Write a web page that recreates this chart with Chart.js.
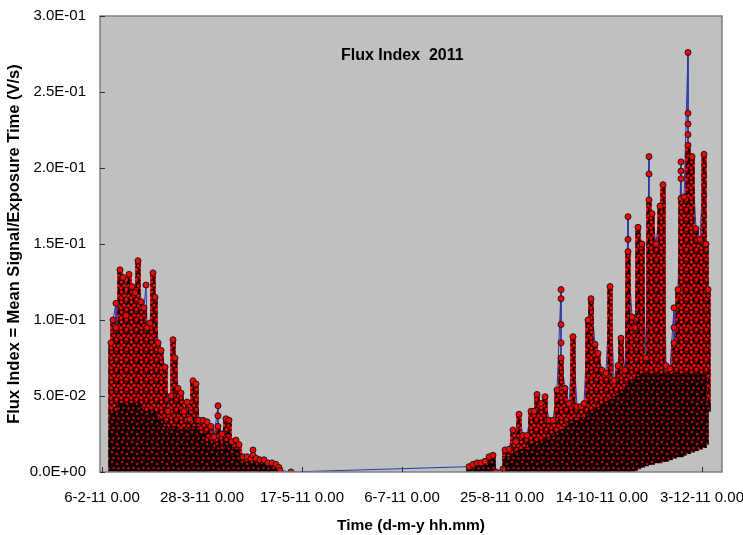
<!DOCTYPE html>
<html>
<head>
<meta charset="utf-8">
<title>Flux Index 2011</title>
<script src="https://cdn.jsdelivr.net/npm/chart.js@4.4.1/dist/chart.umd.min.js"></script>
<style>
  body { margin: 0; background: #fff; }
  #wrap { width: 743px; height: 535px; }
</style>
</head>
<body>
<div id="wrap"><canvas id="fluxChart" width="743" height="535"></canvas></div>
<script>
// ==================== DATA ====================
// x = days after 6-2-11 0.00, y = flux index (V/s)
// each column groups the readings of about one/two days: lowest, top of the dense band, highest
const colDay = [
    4.5, 5.5, 7, 9, 10.5, 12, 13.5, 15, 16.5, 18,
    19.5, 21, 22.5, 24, 25.5, 26.5, 28, 29.5, 31.5, 33,
    34.5, 35.5, 36.5, 38, 39.5, 41, 42.5, 44, 45.5, 47,
    48.5, 50.5, 52.5, 54.5, 56, 58, 60, 62, 63.5, 65,
    67, 68.5, 70.5, 72.5, 74.5, 77, 79, 81, 83, 85,
    87, 88.5,
    183.5, 185.5, 187.5, 189.5, 191.5, 193.5, 195.5, 201.5, 203.5, 205.5,
    207, 208.5, 210.5, 212.5, 214.5, 216, 217.5, 219.5, 221.5, 223.5,
    225.5, 227.5, 229.5, 231.5, 233.5, 235.5, 237.5, 239.5, 241, 243,
    244.5, 246.5, 248, 250, 252, 254, 256, 258, 259.5, 261.5,
    263, 265, 266.5, 268, 270, 272, 273.5, 275, 277, 279,
    280.5, 282, 284, 286, 288, 289.5, 291, 293, 295, 297,
    299, 301, 302, 303
];
const colLow = [
    0, 0, 0, 0, 0, 0, 0, 0, 0, 0,
    0, 0, 0, 0, 0, 0, 0, 0, 0, 0,
    0, 0, 0, 0, 0, 0, 0, 0, 0, 0,
    0, 0, 0, 0, 0, 0, 0, 0, 0, 0,
    0, 0, 0, 0, 0, 0, 0, 0, 0, 0,
    0, 0,
    0, 0, 0, 0, 0, 0, 0, 0, 0, 0,
    0, 0, 0, 0, 0, 0, 0, 0, 0, 0,
    0, 0, 0, 0, 0, 0, 0, 0, 0, 0,
    0, 0, 0, 0, 0, 0, 0, 0, 0, 0,
    0, 0, 0.001, 0.002, 0.003, 0.004, 0.005, 0.005, 0.006, 0.006,
    0.007, 0.007, 0.008, 0.009, 0.010, 0.010, 0.011, 0.012, 0.013, 0.014,
    0.015, 0.016, 0.018, 0.040
];
const colDense = [
    0.030, 0.040, 0.040, 0.045, 0.045, 0.045, 0.045, 0.045, 0.045, 0.045,
    0.042, 0.040, 0.040, 0.040, 0.040, 0.038, 0.035, 0.035, 0.030, 0.025,
    0.025, 0.030, 0.030, 0.028, 0.028, 0.025, 0.028, 0.025, 0.030, 0.030,
    0.025, 0.025, 0.020, 0.020, 0.015, 0.020, 0.015, 0.020, 0.020, 0.012,
    0.015, 0.012, 0.006, 0.006, 0.006, 0.006, 0.005, 0.005, 0.004, 0.004,
    0.003, 0.002,
    0.002, 0.003, 0.004, 0.004, 0.005, 0.007, 0.008, 0.010, 0.010, 0.012,
    0.012, 0.014, 0.015, 0.015, 0.018, 0.018, 0.020, 0.020, 0.022, 0.022,
    0.024, 0.026, 0.028, 0.030, 0.032, 0.034, 0.034, 0.036, 0.036, 0.038,
    0.040, 0.040, 0.042, 0.044, 0.046, 0.048, 0.050, 0.052, 0.054, 0.056,
    0.058, 0.060, 0.062, 0.063, 0.064, 0.064, 0.064, 0.064, 0.064, 0.064,
    0.064, 0.064, 0.064, 0.064, 0.064, 0.064, 0.064, 0.064, 0.064, 0.064,
    0.064, 0.064, 0.045, 0.045
];
const colTop = [
    0.085, 0.100, 0.095, 0.133, 0.128, 0.103, 0.130, 0.122, 0.118, 0.139,
    0.112, 0.108, 0.095, 0.098, 0.131, 0.115, 0.085, 0.080, 0.069, 0.040,
    0.050, 0.087, 0.075, 0.055, 0.052, 0.040, 0.046, 0.035, 0.060, 0.058,
    0.034, 0.034, 0.033, 0.030, 0.023, 0.030, 0.025, 0.035, 0.034, 0.020,
    0.021, 0.018, 0.010, 0.010, 0.009, 0.009, 0.008, 0.008, 0.006, 0.006,
    0.005, 0.003,
    0.0035, 0.005, 0.006, 0.006, 0.007, 0.010, 0.011, 0.0145, 0.015, 0.0276,
    0.020, 0.038, 0.024, 0.024, 0.040, 0.040, 0.051, 0.045, 0.0495, 0.034,
    0.034, 0.054, 0.075, 0.055, 0.045, 0.089, 0.043, 0.043, 0.045, 0.100,
    0.114, 0.084, 0.078, 0.067, 0.065, 0.122, 0.060, 0.070, 0.088, 0.067,
    0.145, 0.102, 0.095, 0.161, 0.150, 0.075, 0.179, 0.170, 0.150, 0.175,
    0.189, 0.070, 0.068, 0.085, 0.120, 0.180, 0.181, 0.215, 0.2075, 0.160,
    0.153, 0.209, 0.150, 0.120
];
// readings standing apart from the columns (spikes and lone low readings)
const extraDay = [7, 22, 58, 58, 75.5, 75.5, 89, 94.5, 197, 200.5,
    229.5, 229.5, 229.5, 229.5, 263, 263, 273.5, 273.5, 286, 286,
    289.5, 289.5, 289.5, 293, 293, 293, 293];
const extraVal = [0.111, 0.123, 0.0436, 0.037, 0.0145, 0.011, 0.001, 0.000, 0.000, 0.002,
    0.120, 0.114, 0.097, 0.085, 0.168, 0.153, 0.2075, 0.196, 0.108, 0.095,
    0.204, 0.198, 0.193, 0.276, 0.236, 0.229, 0.222];

// ==================== AXES ====================
const xTickDays = [0, 50, 100, 150, 200, 250, 300];
const xTickLabels = ['6-2-11 0.00', '28-3-11 0.00', '17-5-11 0.00', '6-7-11 0.00',
    '25-8-11 0.00', '14-10-11 0.00', '3-12-11 0.00'];
const yTickLabels = ['0.0E+00', '5.0E-02', '1.0E-01', '1.5E-01', '2.0E-01', '2.5E-01', '3.0E-01'];

const FONT = "'Liberation Sans', Arial, sans-serif";

// ==================== UTILITIES ====================
// tile of overlapping marker dots, used to fill the dense columns
function makePattern(bg, dot, edge, radius, spots, size) {
    const c = document.createElement('canvas');
    c.width = size; c.height = size;
    const g = c.getContext('2d');
    g.fillStyle = bg;
    g.fillRect(0, 0, size, size);
    g.fillStyle = dot;
    g.strokeStyle = edge;
    g.lineWidth = 0.8;
    spots.forEach(([sx, sy]) => {
        [-size, 0, size].forEach(ox => [-size, 0, size].forEach(oy => {
            g.beginPath();
            g.arc(sx + ox, sy + oy, radius, 0, Math.PI * 2);
            g.fill();
            if (edge) g.stroke();
        }));
    });
    return g.createPattern(c, 'repeat');
}

function buildReadings() {
    const list = [];
    extraDay.forEach((d, i) => list.push({ x: d, y: extraVal[i], k: 0, n: i }));
    colDay.forEach((d, i) => list.push({ x: d, y: colTop[i], k: 1, n: i }));
    list.sort((a, b) => a.x - b.x || a.k - b.k || a.n - b.n);
    return list.map(p => ({ x: p.x, y: p.y }));
}

// marco del grafico: fondo gris, borde, marcas hacia dentro y titulo
const plotFrame = {
    id: 'plotFrame',
    beforeDraw(chart) {
        const { ctx, chartArea: a } = chart;
        ctx.save();
        ctx.fillStyle = '#c0c0c0';
        ctx.fillRect(a.left, a.top, a.right - a.left, a.bottom - a.top);
        ctx.restore();
    },
    afterDraw(chart) {
        const { ctx, chartArea: a, scales } = chart;
        ctx.save();
        ctx.strokeStyle = '#808080';
        ctx.lineWidth = 1.5;
        ctx.strokeRect(a.left, a.top, a.right - a.left, a.bottom - a.top);
        ctx.strokeStyle = '#303030';
        ctx.lineWidth = 1;
        ctx.beginPath();
        scales.y.ticks.forEach(t => {
            const y = Math.round(scales.y.getPixelForValue(t.value)) + 0.5;
            ctx.moveTo(a.left, y); ctx.lineTo(a.left + 5, y);
        });
        scales.x.ticks.forEach(t => {
            const x = Math.round(scales.x.getPixelForValue(t.value)) + 0.5;
            ctx.moveTo(x, a.bottom); ctx.lineTo(x, a.bottom - 5);
        });
        ctx.stroke();
        ctx.fillStyle = '#000';
        ctx.font = 'bold 16px ' + FONT;
        ctx.textAlign = 'center';
        ctx.textBaseline = 'middle';
        ctx.fillText('Flux Index  2011', a.left + (a.right - a.left) * 0.486, a.top + 40);
        ctx.restore();
    }
};

// ==================== CHART ====================
const ctx = document.getElementById('fluxChart').getContext('2d');
const upperPattern = makePattern('#100000', '#ff0000', '#000000', 2.2,
    [[1.5, 2], [6, 1], [4, 5.5], [8.5, 6], [1, 8], [6.5, 9.5]], 10);
const densePattern = makePattern('#000000', '#e00000', null, 1.2,
    [[2, 2], [7, 4], [3.5, 8], [8.5, 8.5]], 10);
const readings = buildReadings();

new Chart(ctx, {
    type: 'bar',
    data: {
        datasets: [
            {
                type: 'line',
                data: readings,
                borderColor: '#2b36a8',
                borderWidth: 1,
                pointRadius: 0,
                order: 4
            },
            {
                data: colDay.map((d, i) => ({ x: d, y: [colDense[i], colTop[i]] })),
                backgroundColor: upperPattern,
                borderWidth: 0,
                barThickness: 5,
                grouped: false,
                order: 3
            },
            {
                data: colDay.map((d, i) => ({ x: d, y: [colLow[i], colDense[i]] })),
                backgroundColor: densePattern,
                borderWidth: 0,
                barThickness: 5,
                grouped: false,
                order: 2
            },
            {
                type: 'line',
                data: readings,
                showLine: false,
                pointRadius: 3,
                pointBackgroundColor: '#ff0000',
                pointBorderColor: '#1a1a1a',
                pointBorderWidth: 1,
                order: 1
            }
        ]
    },
    options: {
        responsive: false,
        animation: false,
        events: [],
        layout: { padding: { top: 16, right: 21, left: 0, bottom: 0 } },
        plugins: { legend: { display: false }, tooltip: { enabled: false } },
        scales: {
            x: {
                type: 'linear',
                min: -1,
                max: 310,
                offset: false,
                grid: { display: false, drawTicks: false },
                border: { display: false },
                afterBuildTicks: scale => { scale.ticks = xTickDays.map(v => ({ value: v })); },
                afterFit: scale => {
                    scale.height = 63;
                    scale.paddingLeft = 0;
                    scale.paddingRight = 0;
                },
                ticks: {
                    autoSkip: false,
                    maxRotation: 0,
                    padding: 17,
                    color: '#000',
                    font: { family: FONT, size: 15 },
                    callback: v => xTickLabels[xTickDays.indexOf(v)]
                },
                title: {
                    display: true,
                    text: 'Time (d-m-y hh.mm)',
                    color: '#000',
                    font: { family: FONT, size: 15.5, weight: 'bold' },
                    padding: { top: 0, bottom: 0 }
                }
            },
            y: {
                min: 0,
                max: 0.3,
                grid: { display: false, drawTicks: false },
                border: { display: false },
                afterFit: scale => {
                    scale.width = 100;
                    scale.paddingTop = 0;
                    scale.paddingBottom = 0;
                },
                ticks: {
                    stepSize: 0.05,
                    padding: 14,
                    color: '#000',
                    font: { family: FONT, size: 15 },
                    callback: v => yTickLabels[Math.round(v / 0.05)]
                },
                title: {
                    display: true,
                    text: 'Flux Index = Mean Signal/Exposure Time (V/s)',
                    color: '#000',
                    font: { family: FONT, size: 16.5, weight: 'bold' },
                    padding: { top: 5, bottom: 0 }
                }
            }
        }
    },
    plugins: [plotFrame]
});
</script>
</body>
</html>
